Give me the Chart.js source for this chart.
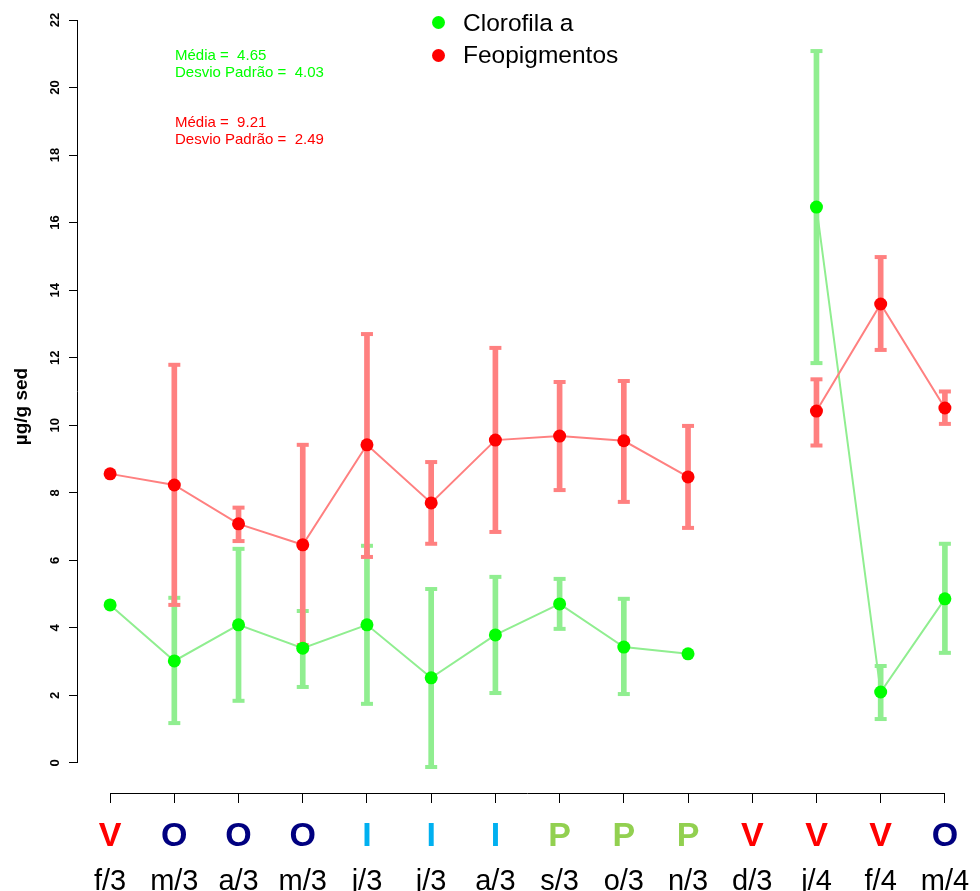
<!DOCTYPE html>
<html>
<head>
<meta charset="utf-8">
<script src="https://cdn.jsdelivr.net/npm/chart.js@4.4.1/dist/chart.umd.min.js"></script>
<style>
  body { margin: 0; background: #fff; }
  #wrap { position: relative; width: 980px; height: 891px; }
  #chart { position: absolute; left: 0; top: 0; }
  .txt { position: absolute; font-family: "Liberation Sans", Arial, sans-serif; white-space: pre; line-height: 1; }
  .leg { font-size: 24.5px; color: #000; }
  .dot { position: absolute; width: 13px; height: 13px; border-radius: 50%; }
  .stat { font-size: 15px; }
</style>
</head>
<body>
<div id="wrap">
  <canvas id="chart" width="980" height="891"></canvas>
  <div class="dot" style="left:432px;top:16px;background:#00ff00"></div>
  <div class="txt leg" style="left:463px;top:11px">Clorofila a</div>
  <div class="dot" style="left:432px;top:49px;background:#ff0000"></div>
  <div class="txt leg" style="left:463px;top:43px">Feopigmentos</div>
  <div class="txt stat" style="left:175px;top:47px;color:#00ff00">Média =  4.65</div>
  <div class="txt stat" style="left:175px;top:64px;color:#00ff00">Desvio Padrão =  4.03</div>
  <div class="txt stat" style="left:175px;top:114px;color:#ff0000">Média =  9.21</div>
  <div class="txt stat" style="left:175px;top:131px;color:#ff0000">Desvio Padrão =  2.49</div>
</div>
<script>
// categorias (mês/ano) e estação do ano
const months = ['f/3', 'm/3', 'a/3', 'm/3', 'j/3', 'j/3', 'a/3', 's/3', 'o/3', 'n/3', 'd/3', 'j/4', 'f/4', 'm/4'];
const seasons = ['V', 'O', 'O', 'O', 'I', 'I', 'I', 'P', 'P', 'P', 'V', 'V', 'V', 'O'];
const seasonColors = { V: '#ff0000', O: '#000080', I: '#00b0f0', P: '#92d050' };

// Clorofila a (média, limite superior, limite inferior)
const cloro     = [4.68, 3.02, 4.09, 3.40, 4.09, 2.52, 3.79, 4.71, 3.43, 3.23, null, 16.46, 2.10, 4.86];
const cloroHigh = [null, 4.89, 6.34, 4.50, 6.43, 5.15, 5.51, 5.45, 4.86, null, null, 21.08, 2.87, 6.49];
const cloroLow  = [null, 1.18, 1.84, 2.25, 1.75, -0.12, 2.07, 3.97, 2.04, null, null, 11.84, 1.30, 3.26];

// Feopigmentos
const feo     = [8.56, 8.23, 7.08, 6.46, 9.42, 7.70, 9.56, 9.68, 9.54, 8.47, null, 10.42, 13.59, 10.51];
const feoHigh = [null, 11.79, 7.56, 9.42, 12.70, 8.91, 12.29, 11.28, 11.31, 9.98, null, 11.36, 14.98, 11.00];
const feoLow  = [null, 4.68, 6.57, 3.49, 6.10, 6.49, 6.84, 8.08, 7.73, 6.96, null, 9.40, 12.23, 10.04];

const yTicks = [0, 2, 4, 6, 8, 10, 12, 14, 16, 18, 20, 22];

const FONT = '"Liberation Sans", Arial, sans-serif';
Chart.defaults.font.family = FONT;
Chart.defaults.color = '#000';

// barras de erro = barras flutuantes + "caps"
function errBars(high, low, color, order) {
  return [
    {
      type: 'bar',
      data: high.map((h, i) => h == null ? null : [low[i], h]),
      backgroundColor: color,
      barThickness: 5,
      grouped: false,
      order: order
    },
    {
      type: 'line',
      data: high,
      showLine: false,
      pointStyle: 'line',
      pointRadius: 6,
      pointBorderWidth: 4,
      pointBorderColor: color,
      order: order
    },
    {
      type: 'line',
      data: low,
      showLine: false,
      pointStyle: 'line',
      pointRadius: 6,
      pointBorderWidth: 4,
      pointBorderColor: color,
      order: order
    }
  ];
}

// eixos no estilo do R (linha só entre os ticks)
const axisLines = {
  id: 'axisLines',
  afterDraw(chart) {
    const { ctx, chartArea, scales } = chart;
    ctx.save();
    ctx.strokeStyle = '#000';
    ctx.lineWidth = 1;
    ctx.beginPath();
    const ax = Math.round(chartArea.left) - 0.5;
    ctx.moveTo(ax, scales.y.getPixelForValue(yTicks[0]));
    ctx.lineTo(ax, scales.y.getPixelForValue(yTicks[yTicks.length - 1]));
    const by = Math.round(chartArea.bottom) + 0.5;
    ctx.moveTo(scales.x.getPixelForValue(0), by);
    ctx.lineTo(scales.x.getPixelForValue(months.length - 1), by);
    ctx.stroke();
    ctx.restore();
  }
};

function fixX(h) {
  return s => {
    s.height = h;
    s.paddingLeft = 0;
    s.paddingRight = 0;
  };
}

new Chart(document.getElementById('chart'), {
  type: 'line',
  data: {
    labels: months,
    datasets: [
      {
        label: 'Feopigmentos',
        data: feo,
        borderColor: '#ff8080',
        borderWidth: 2,
        pointRadius: 6.5,
        pointBackgroundColor: '#ff0000',
        pointBorderWidth: 0,
        order: 0
      },
      {
        label: 'Clorofila a',
        data: cloro,
        borderColor: '#90ee90',
        borderWidth: 2,
        pointRadius: 6.5,
        pointBackgroundColor: '#00ff00',
        pointBorderWidth: 0,
        order: 1
      },
      ...errBars(feoHigh, feoLow, '#ff8080', 2),
      ...errBars(cloroHigh, cloroLow, '#90ee90', 3)
    ]
  },
  options: {
    responsive: false,
    animation: false,
    devicePixelRatio: 1,
    layout: { autoPadding: false, padding: { left: 0, right: 3, top: 20, bottom: 0 } },
    plugins: { legend: { display: false }, tooltip: { enabled: false } },
    scales: {
      y: {
        min: -0.89,
        max: 22,
        afterBuildTicks: s => { s.ticks = yTicks.map(v => ({ value: v })); },
        afterFit: s => { s.width = 78; },
        grid: { drawOnChartArea: false, tickLength: 9, color: '#000' },
        border: { display: false },
        ticks: {
          minRotation: 90,
          maxRotation: 90,
          crossAlign: 'center',
          padding: 6,
          font: { size: 13, weight: 'bold' }
        },
        title: {
          display: true,
          text: 'µg/g sed',
          font: { size: 19, weight: 'bold' },
          padding: { top: 10, bottom: 0 }
        }
      },
      xs: {
        type: 'category',
        axis: 'x',
        position: 'bottom',
        labels: seasons,
        offset: true,
        weight: 1,
        afterFit: fixX(60),
        grid: { drawOnChartArea: false, tickLength: 10, color: '#000' },
        border: { display: false },
        ticks: {
          autoSkip: false,
          maxRotation: 0,
          padding: 17,
          color: c => seasonColors[seasons[c.index]],
          font: { size: 34, weight: 'bold', lineHeight: 1 }
        }
      },
      x: {
        type: 'category',
        position: 'bottom',
        offset: true,
        weight: 2,
        afterFit: fixX(38),
        grid: { display: false },
        border: { display: false },
        ticks: {
          autoSkip: false,
          maxRotation: 0,
          padding: 6,
          font: { size: 29, lineHeight: 1 }
        }
      }
    }
  },
  plugins: [axisLines]
});
</script>
</body>
</html>
